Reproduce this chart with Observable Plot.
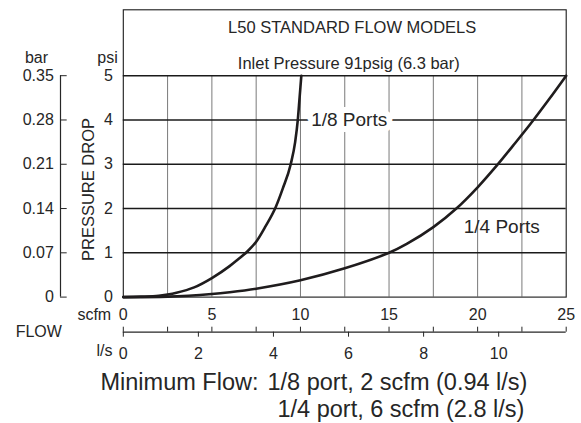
<!DOCTYPE html>
<html>
<head>
<meta charset="utf-8">
<script src="https://cdn.jsdelivr.net/npm/d3@7"></script>
<script src="https://cdn.jsdelivr.net/npm/@observablehq/plot@0.6"></script>
<style>
  html, body { margin: 0; padding: 0; background: #fff; }
  #chart svg { display: block; }
</style>
</head>
<body>
<div id="chart"></div>
<script>
// ---- data ----
const seriesNames = ["1/8 Ports", "1/4 Ports"];
const flowScfm18 = [0, 1, 2, 2.5, 3, 4, 5, 6, 6.5, 7, 7.5, 8, 8.6, 9, 9.45, 9.7, 9.85, 9.95, 10.05];
const dropPsi18  = [0, 0.01, 0.03, 0.06, 0.1, 0.22, 0.43, 0.7, 0.86, 1.03, 1.25, 1.58, 2.03, 2.45, 3.0, 3.5, 4.0, 4.5, 5.0];
const flowScfm14 = [0, 2.5, 5, 6, 7.5, 10, 12.5, 15, 16, 17.5, 18.8, 20, 21.1, 22, 23, 24, 25];
const dropPsi14  = [0, 0.01, 0.07, 0.11, 0.19, 0.38, 0.65, 1.0, 1.2, 1.58, 2.0, 2.48, 2.98, 3.42, 3.92, 4.45, 5.0];

const psiTicks = [0, 1, 2, 3, 4, 5];
const barTickLabels = ["0", "0.07", "0.14", "0.21", "0.28", "0.35"];
const scfmTicks = [0, 5, 10, 15, 20, 25];
const scfmGrid = [0, 2.5, 5, 7.5, 10, 12.5, 15, 17.5, 20, 22.5, 25];
const lpsTicks = [0, 2, 4, 6, 8, 10];
const SCFM_PER_LPS = 2.11888;

const titleText = "L50 STANDARD FLOW MODELS";
const subtitleText = "Inlet Pressure 91psig (6.3 bar)";
const captionHead = "Minimum Flow:";
const captionLines = ["1/8 port, 2 scfm (0.94 l/s)", "1/4 port, 6 scfm (2.8 l/s)"];
// series label anchor points (scfm, psi)
const seriesLabelScfm = [12.75, 21.36];
const seriesLabelPsi = [4, 1.58];

const rows = [
  ...flowScfm18.map((x, i) => ({series: seriesNames[0], scfm: x, psi: dropPsi18[i]})),
  ...flowScfm14.map((x, i) => ({series: seriesNames[1], scfm: x, psi: dropPsi14[i]}))
];
const seriesLabels = seriesNames.map((s, i) => ({text: s, scfm: seriesLabelScfm[i], psi: seriesLabelPsi[i]}));

// ---- layout ----
const W = 581, H = 423;
const FL = 122.8, FR = 565.7, FT = 9.3, FB = 296.6;
const PSI_PX = 44.28;
const Y_TOP = (FB - FT) / PSI_PX;   // title box top, in psi units
const INK = "#262626";
const FONT = "'Liberation Sans', Arial, Helvetica, sans-serif";

function label(txt, px, baseline, size, anchor = "middle") {
  return Plot.text([txt], {
    text: d => d, frameAnchor: "top-left", textAnchor: anchor, lineAnchor: "middle",
    dx: px - FL, dy: baseline - 0.32 * size - FT, fontSize: size, fill: INK
  });
}

const chart = Plot.plot({
  width: W, height: H,
  marginLeft: FL, marginRight: W - FR, marginTop: FT, marginBottom: H - FB,
  x: {domain: [0, 25], axis: null},
  y: {domain: [0, Y_TOP], axis: null},
  style: {fontFamily: FONT, fontSize: "16px", color: INK, background: "#fff"},
  marks: [
    // vertical grid (gray) and horizontal grid (dark)
    Plot.ruleX(scfmGrid.slice(1, -1), {y1: 0, y2: 5, stroke: "#7a7a7a", strokeWidth: 1}),
    Plot.ruleY(psiTicks.slice(1), {stroke: "#1a1a1a", strokeWidth: 1.4}),
    Plot.frame({stroke: "#1a1a1a", strokeWidth: 1.1}),
    // curves
    Plot.line(rows.filter(d => d.series === seriesNames[0]), {x: "scfm", y: "psi", curve: "monotone-x", stroke: "#1f1c1d", strokeWidth: 2.6}),
    Plot.line(rows.filter(d => d.series === seriesNames[1]), {x: "scfm", y: "psi", curve: "catmull-rom", stroke: "#1f1c1d", strokeWidth: 2.6}),
    // series labels
    Plot.text(seriesLabels.slice(0, 1), {x: "scfm", y: "psi", text: "text", fontSize: 19, fill: INK,
      stroke: "#fff", strokeWidth: 12, strokeLinejoin: "round"}),
    Plot.text(seriesLabels.slice(1), {x: "scfm", y: "psi", text: "text", fontSize: 19, fill: INK}),
    // psi axis
    Plot.axisY(psiTicks, {anchor: "left", tickSize: 0, tickPadding: 10.5, fontSize: 16, label: null}),
    // bar axis
    Plot.ruleX([0], {y1: 0, y2: 5, dx: 60 - FL, stroke: INK, strokeWidth: 1.2}),
    Plot.axisY(psiTicks, {anchor: "left", tickSize: 6.7, tickPadding: 6.7, dx: 66.7 - FL, fontSize: 16,
      tickFormat: d => barTickLabels[psiTicks.indexOf(d)], label: null}),
    // scfm axis
    Plot.axisX(scfmTicks, {anchor: "bottom", tickSize: 0, tickPadding: 11.3, fontSize: 16, label: null}),
    // l/s axis line, scfm minor ticks up, l/s ticks down
    Plot.ruleY([0], {dy: 331.7 - FB, stroke: INK, strokeWidth: 1.2}),
    Plot.axisX(scfmGrid, {anchor: "bottom", tickSize: 5, dy: 326.7 - FB, tickFormat: () => "", label: null}),
    Plot.axisX(lpsTicks.map(v => v * SCFM_PER_LPS), {anchor: "bottom", tickSize: 5, tickPadding: 10, dy: 331.7 - FB,
      fontSize: 16, tickFormat: d => String(Math.round(d / SCFM_PER_LPS)), label: null}),
    // titles and unit labels
    label(titleText, 351.7, 32.3, 16.5),
    label(subtitleText, 348.3, 68.3, 16.5),
    label("bar", 36, 62.7, 16),
    label("psi", 107, 62.7, 16),
    label("scfm", 93.8, 319.3, 16),
    label("FLOW", 38.3, 336.7, 16),
    label("l/s", 104, 355, 16),
    Plot.text(["PRESSURE DROP"], {text: d => d, frameAnchor: "top-left", rotate: -90, textAnchor: "middle",
      lineAnchor: "middle", dx: 88.5 - FL, dy: 189 - FT, fontSize: 16.5, fill: INK}),
    // caption
    label(captionHead, 100, 389.3, 23.5, "start"),
    label(captionLines[0], 267, 389.3, 23.5, "start"),
    label(captionLines[1], 277, 416.7, 23.5, "start")
  ]
});
document.getElementById("chart").appendChild(chart);
</script>
</body>
</html>
